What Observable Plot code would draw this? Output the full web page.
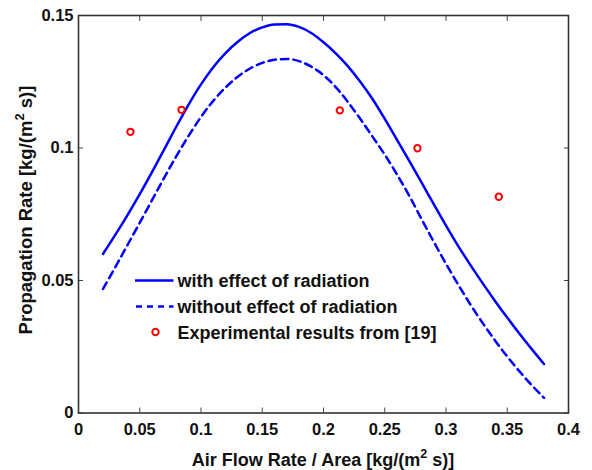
<!DOCTYPE html>
<html>
<head>
<meta charset="utf-8">
<script src="https://cdn.jsdelivr.net/npm/d3@7"></script>
<script src="https://cdn.jsdelivr.net/npm/@observablehq/plot@0.6"></script>
<style>
  html, body { margin: 0; padding: 0; background: #fff; }
  #chart { position: relative; width: 592px; height: 470px; }
</style>
</head>
<body>
<div id="chart"></div>
<script>
// Air flow rate / area (x) sampled along the model curves
const flowRate = [0.02, 0.03, 0.04, 0.05, 0.06, 0.07, 0.08, 0.09, 0.10, 0.11, 0.12, 0.13, 0.14, 0.15, 0.16, 0.17, 0.18, 0.19, 0.20,
  0.21, 0.22, 0.23, 0.24, 0.25, 0.26, 0.27, 0.28, 0.29, 0.30, 0.31, 0.32, 0.33, 0.34, 0.35, 0.36, 0.37, 0.38];
// Propagation rate with effect of radiation
const withRadiation = [0.0600, 0.0672, 0.0747, 0.0826, 0.0909, 0.0995, 0.1082, 0.1165, 0.1240, 0.1305, 0.1358, 0.1401, 0.1434, 0.1455,
  0.1466, 0.1467, 0.1457, 0.1434, 0.1399, 0.1357, 0.1308, 0.1250, 0.1185, 0.1110, 0.1031, 0.0951, 0.0870, 0.0788, 0.0707,
  0.0630, 0.0558, 0.0489, 0.0423, 0.0360, 0.0299, 0.0241, 0.0185];
// Propagation rate without effect of radiation
const withoutRadiation = [0.0468, 0.0550, 0.0634, 0.0718, 0.0803, 0.0888, 0.0970, 0.1047, 0.1117, 0.1178, 0.1228, 0.1269, 0.1300, 0.1321,
  0.1333, 0.1336, 0.1328, 0.1307, 0.1275, 0.1230, 0.1173, 0.1110, 0.1043, 0.0975, 0.0900, 0.0820, 0.0732, 0.0646, 0.0563,
  0.0484, 0.0409, 0.0339, 0.0274, 0.0213, 0.0157, 0.0105, 0.0057];
// Experimental results from [19]
const expX = [0.0424, 0.0841, 0.2133, 0.2767, 0.3431];
const expY = [0.1061, 0.1144, 0.1142, 0.0999, 0.0816];

const xTicks = [0, 0.05, 0.1, 0.15, 0.2, 0.25, 0.3, 0.35, 0.4];
const yTicks = [0, 0.05, 0.1, 0.15];

const legendLabels = ["with effect of radiation", "without effect of radiation", "Experimental results from [19]"];
const xLabel = ["Air Flow Rate / Area [kg/(m", "2", " s)]"];
const yLabel = ["Propagation Rate [kg/(m", "2", " s)]"];

const solid = flowRate.map((x, i) => ({x, y: withRadiation[i]}));
const dashed = flowRate.map((x, i) => ({x, y: withoutRadiation[i]}));
const exp = expX.map((x, i) => ({x, y: expY[i]}));

const FONT = "'Liberation Sans', Arial, Helvetica, sans-serif";
const tickFmt = d => String(d);
const blank = () => "";

const svg = Plot.plot({
  width: 592,
  height: 470,
  marginLeft: 78,
  marginRight: 24,
  marginTop: 15,
  marginBottom: 57.5,
  x: {domain: [0, 0.4]},
  y: {domain: [0, 0.15]},
  style: {fontFamily: FONT, fontSize: "16.5px", fontWeight: "bold", color: "#111", background: "#fff"},
  marks: [
    Plot.axisX(xTicks, {anchor: "bottom", tickSize: 0, tickPadding: 10, tickFormat: tickFmt, label: null}),
    Plot.axisY(yTicks, {anchor: "left", tickSize: 0, tickPadding: 5, tickFormat: tickFmt, label: null}),
    Plot.axisX(xTicks, {anchor: "bottom", tickSize: 5, dy: -5, tickFormat: blank, label: null, stroke: "#444"}),
    Plot.axisX(xTicks, {anchor: "top", tickSize: 5, dy: 5, tickFormat: blank, label: null, stroke: "#444"}),
    Plot.axisY(yTicks, {anchor: "left", tickSize: 5, dx: 5, tickFormat: blank, label: null, stroke: "#444"}),
    Plot.axisY(yTicks, {anchor: "right", tickSize: 5, dx: -5, tickFormat: blank, label: null, stroke: "#444"}),
    Plot.line(solid, {x: "x", y: "y", stroke: "#0000ff", strokeWidth: 2.5, curve: "monotone-x"}),
    Plot.line(dashed, {x: "x", y: "y", stroke: "#0000ff", strokeWidth: 2.5, strokeDasharray: "7.5,5", curve: "monotone-x"}),
    Plot.dot(exp, {x: "x", y: "y", r: 3.2, stroke: "#ff0000", strokeWidth: 2, fill: "none"}),
    Plot.frame({stroke: "#333", strokeWidth: 1.6})
  ]
});

document.getElementById("chart").appendChild(svg);

const s = d3.select(svg);

// Axis labels with superscripts
function labelText(g, parts, size) {
  g.append("tspan").text(parts[0]);
  g.append("tspan").attr("font-size", size * 0.7).attr("dy", -size * 0.42).text(parts[1]);
  g.append("tspan").attr("dy", size * 0.42).text(parts[2]);
}
const xl = s.append("text")
  .attr("x", 323).attr("y", 465.5)
  .attr("text-anchor", "middle")
  .attr("font-family", FONT).attr("font-weight", "bold").attr("font-size", 18).attr("fill", "#111");
labelText(xl, xLabel, 18);

const yl = s.append("text")
  .attr("transform", "translate(31.5,210) rotate(-90)")
  .attr("text-anchor", "middle")
  .attr("font-family", FONT).attr("font-weight", "bold").attr("font-size", 18.5).attr("fill", "#111");
labelText(yl, yLabel, 18.5);

// Legend
const lg = s.append("g").attr("font-family", FONT).attr("font-weight", "bold").attr("font-size", 18)
  .attr("fill", "#111").attr("text-anchor", "start");
const rows = [280.5, 306.5, 332];
lg.append("line").attr("x1", 135).attr("x2", 173.5).attr("y1", rows[0]).attr("y2", rows[0])
  .attr("stroke", "#0000ff").attr("stroke-width", 2.5);
lg.append("line").attr("x1", 136).attr("x2", 173.5).attr("y1", rows[1]).attr("y2", rows[1])
  .attr("stroke", "#0000ff").attr("stroke-width", 2.5).attr("stroke-dasharray", "6,5");
lg.append("circle").attr("cx", 155.5).attr("cy", rows[2]).attr("r", 3.2)
  .attr("fill", "none").attr("stroke", "#ff0000").attr("stroke-width", 2);
legendLabels.forEach((t, i) => {
  lg.append("text").attr("x", 177.5).attr("y", rows[i] + 6.5).attr("text-anchor", "start").text(t);
});
</script>
</body>
</html>
